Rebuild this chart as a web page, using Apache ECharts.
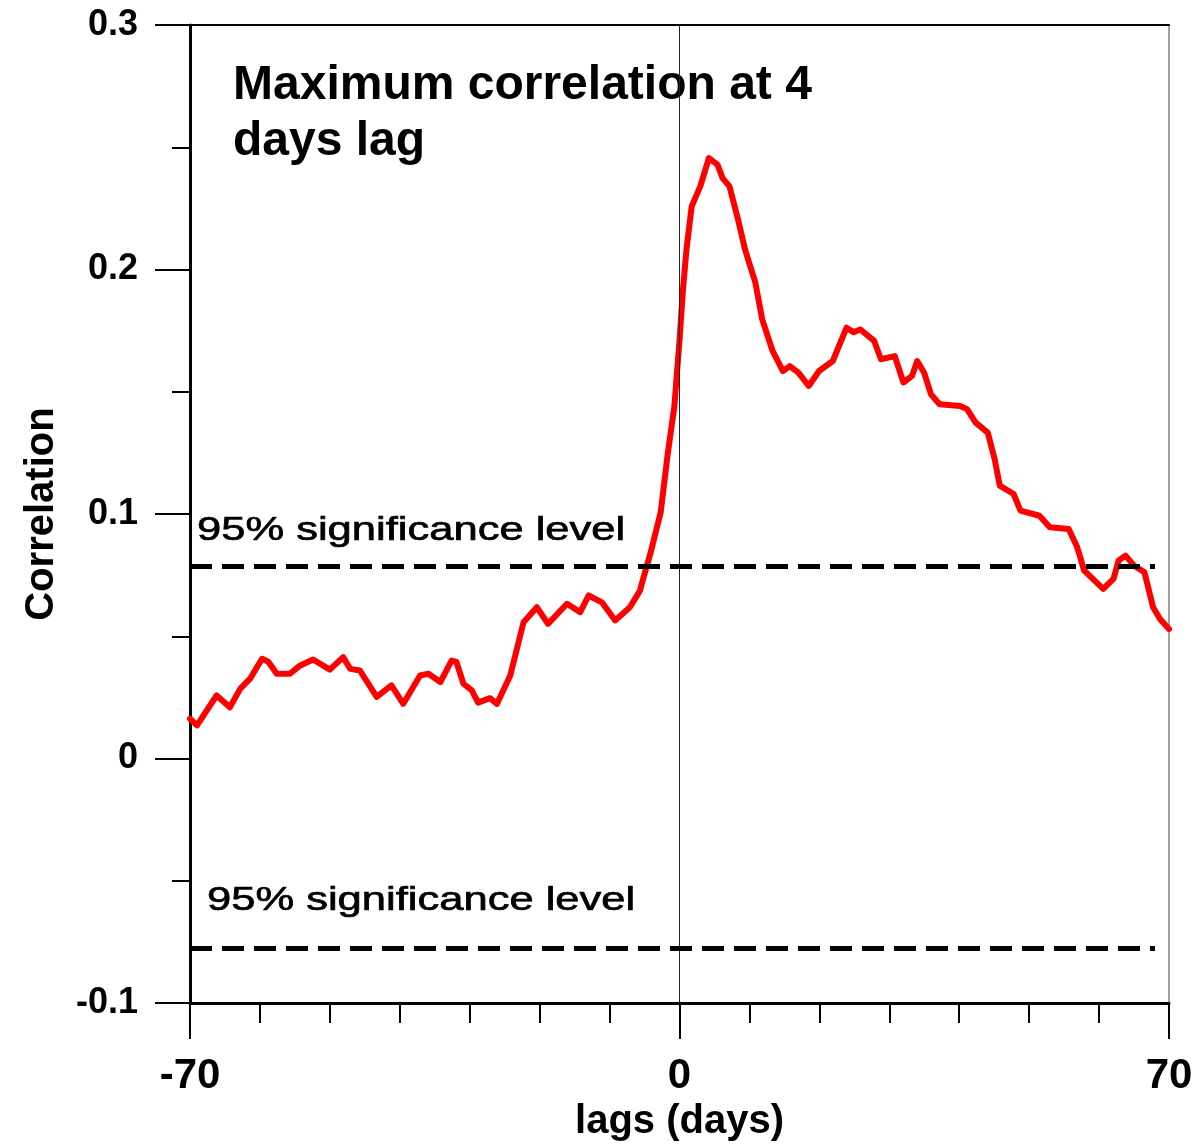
<!DOCTYPE html>
<html><head><meta charset="utf-8">
<script src="https://cdn.jsdelivr.net/npm/echarts@6/dist/echarts.min.js"></script>
<style>html,body{margin:0;padding:0;background:#fff}#c{width:1199px;height:1147px}</style>
</head><body><div id="c"></div>
<script>
// lag (days)
const lags = [-70, -69, -66.2, -64.3, -62.8, -61.4, -59.7, -58.8, -57.6, -55.7, -54.3, -52.4, -50, -48.1, -47.1, -45.7,
  -43.3, -41.2, -39.5, -37.1, -35.9, -34.2, -32.6, -31.9, -30.9, -29.7, -28.8, -27.1, -26.1, -24.2, -22.3, -20.4,
  -18.8, -16.1, -14.2, -13, -11.1, -9.2, -7.1, -5.65, -5.2, -4.18, -2.69, -1.72, -0.73, 0.01, 0.5, 1.0, 1.74, 2.97,
  4.2, 5.43, 6.16, 7.15, 8.38, 9.37, 10.85, 11.83, 13.31, 14.79, 15.77, 17.0, 18.48, 19.96, 21.92, 23.89, 24.88,
  25.87, 27.84, 28.81, 30.79, 32.02, 33.25, 33.99, 34.98, 35.96, 37.19, 40.14, 41.12, 42.35, 44.08, 45.07, 45.8,
  47.78, 48.76, 51.47, 52.95, 55.66, 56.88, 57.87, 58.85, 60.59, 62.06, 62.8, 63.78, 65.01, 66.49, 67.72, 68.71, 70];
// correlation
const corr = [0.0163, 0.0136, 0.0258, 0.021, 0.0286, 0.0327, 0.0408, 0.0396, 0.0347, 0.0347, 0.038, 0.0405, 0.0364, 0.0415, 0.0367, 0.036,
  0.0252, 0.0299, 0.0224, 0.034, 0.0347, 0.0313, 0.0401, 0.0395, 0.0306, 0.0279, 0.0229, 0.0247, 0.0224, 0.034, 0.0558, 0.0619,
  0.0551, 0.0633, 0.0599, 0.0667, 0.0639, 0.0565, 0.0619, 0.0687, 0.0735, 0.0837, 0.1007, 0.1238, 0.1442, 0.1714, 0.1918, 0.2082, 0.2258, 0.234,
  0.2456, 0.2429, 0.2374, 0.234, 0.2204, 0.2082, 0.1946, 0.1796, 0.1667, 0.1585, 0.1605, 0.1578, 0.1524, 0.1585, 0.1626, 0.1762, 0.1744,
  0.1755, 0.1708, 0.1633, 0.1646, 0.1538, 0.1565, 0.1626, 0.1578, 0.149, 0.1449, 0.1442, 0.1429, 0.1374, 0.1333, 0.1224, 0.1116,
  0.1082, 0.1014, 0.0993, 0.0946, 0.0939, 0.0864, 0.0769, 0.0742, 0.0694, 0.0735, 0.081, 0.083, 0.0789, 0.0762, 0.0619, 0.0571, 0.053];

const xTickLabels = ['-70', '0', '70'];
const yTickLabels = ['-0.1', '0', '0.1', '0.2', '0.3'];
const sigUpper = 0.0785;
const sigLower = -0.0775;
const sigStart = -70;
const sigEnd = 68;
const titleLines = ['Maximum correlation at 4', 'days lag'];
const sigLabel = '95% significance level';
const xName = 'lags (days)';
const yName = 'Correlation';

const FF = "'Liberation Sans', Arial, Helvetica, sans-serif";
const chart = echarts.init(document.getElementById('c'), null, {renderer: 'canvas'});
const pairs = lags.map((l, i) => [l, corr[i]]);

function fmtY(v) {
  const r = Math.round(v * 10) / 10;
  const s = r === 0 ? '0' : String(r);
  return yTickLabels.includes(s) ? s : '';
}
function fmtX(v) {
  const s = String(Math.round(v));
  return xTickLabels.includes(s) ? s : '';
}
const sigStyle = {font: '34px ' + FF, fill: '#000', stroke: '#000', lineWidth: 0.7,
  textAlign: 'left', textVerticalAlign: 'middle', align: 'left', verticalAlign: 'middle'};
const titleStyle = {font: 'bold 48px ' + FF, fill: '#000',
  textAlign: 'left', textVerticalAlign: 'middle', align: 'left', verticalAlign: 'middle'};

chart.setOption({
  animation: false,
  backgroundColor: '#fff',
  grid: {left: 190, right: 30, top: 25, bottom: 143, show: true, borderColor: '#444', borderWidth: 1, backgroundColor: 'transparent'},
  xAxis: [{
    type: 'value', min: -70, max: 70, interval: 70, position: 'bottom',
    axisLine: {show: true, onZero: false, lineStyle: {color: '#000', width: 3}},
    axisTick: {show: true, length: 36, lineStyle: {color: '#000', width: 2}},
    minorTick: {show: true, splitNumber: 7, length: 20, lineStyle: {color: '#000', width: 2}},
    splitLine: {show: false},
    axisLabel: {margin: 52, fontSize: 42, fontWeight: 'bold', fontFamily: FF, color: '#000', formatter: fmtX},
    name: xName, nameLocation: 'middle', nameGap: 96,
    nameTextStyle: {fontSize: 40, fontWeight: 'bold', fontFamily: FF, color: '#000'}
  }, {
    type: 'value', min: -70, max: 70, interval: 70, position: 'top',
    axisLine: {show: true, onZero: false, lineStyle: {color: '#000', width: 2}},
    axisTick: {show: false}, axisLabel: {show: false}, splitLine: {show: false}
  }],
  yAxis: {
    type: 'value', min: -0.1, max: 0.3, interval: 0.1,
    axisLine: {show: true, onZero: false, lineStyle: {color: '#000', width: 3}},
    axisTick: {show: true, length: 35, lineStyle: {color: '#000', width: 2}},
    minorTick: {show: true, splitNumber: 2, length: 18, lineStyle: {color: '#000', width: 2}},
    splitLine: {show: false},
    axisLabel: {margin: 52, fontSize: 36, fontWeight: 'bold', fontFamily: FF, color: '#000', formatter: fmtY},
    name: yName, nameLocation: 'middle', nameGap: 128, nameRotate: 90,
    nameTextStyle: {fontSize: 40, fontWeight: 'bold', fontFamily: FF, color: '#000'}
  },
  series: [{
    type: 'line', data: pairs, showSymbol: false, symbol: 'none', smooth: false,
    lineStyle: {color: '#ff0000', width: 6, join: 'round', cap: 'round'},
    z: 3,
    markLine: {
      silent: true, symbol: ['none', 'none'], animation: false,
      label: {show: false},
      data: [
        [{coord: [0, -0.1], lineStyle: {type: 'solid', width: 1, color: '#222'}}, {coord: [0, 0.3]}],
        [{coord: [sigStart, sigUpper], lineStyle: {type: [22, 10], width: 5, color: '#000'}}, {coord: [sigEnd, sigUpper]}],
        [{coord: [sigStart, sigLower], lineStyle: {type: [22, 10], width: 5, color: '#000'}}, {coord: [sigEnd, sigLower]}]
      ]
    }
  }],
  graphic: [
    {type: 'text', x: 233, y: 86, style: Object.assign({text: titleLines[0]}, titleStyle)},
    {type: 'text', x: 233, y: 142, style: Object.assign({text: titleLines[1]}, titleStyle)},
    {type: 'text', x: 197, y: 531, scaleX: 1.28, style: Object.assign({text: sigLabel}, sigStyle)},
    {type: 'text', x: 207, y: 901, scaleX: 1.28, style: Object.assign({text: sigLabel}, sigStyle)}
  ]
});
</script>
</body></html>
